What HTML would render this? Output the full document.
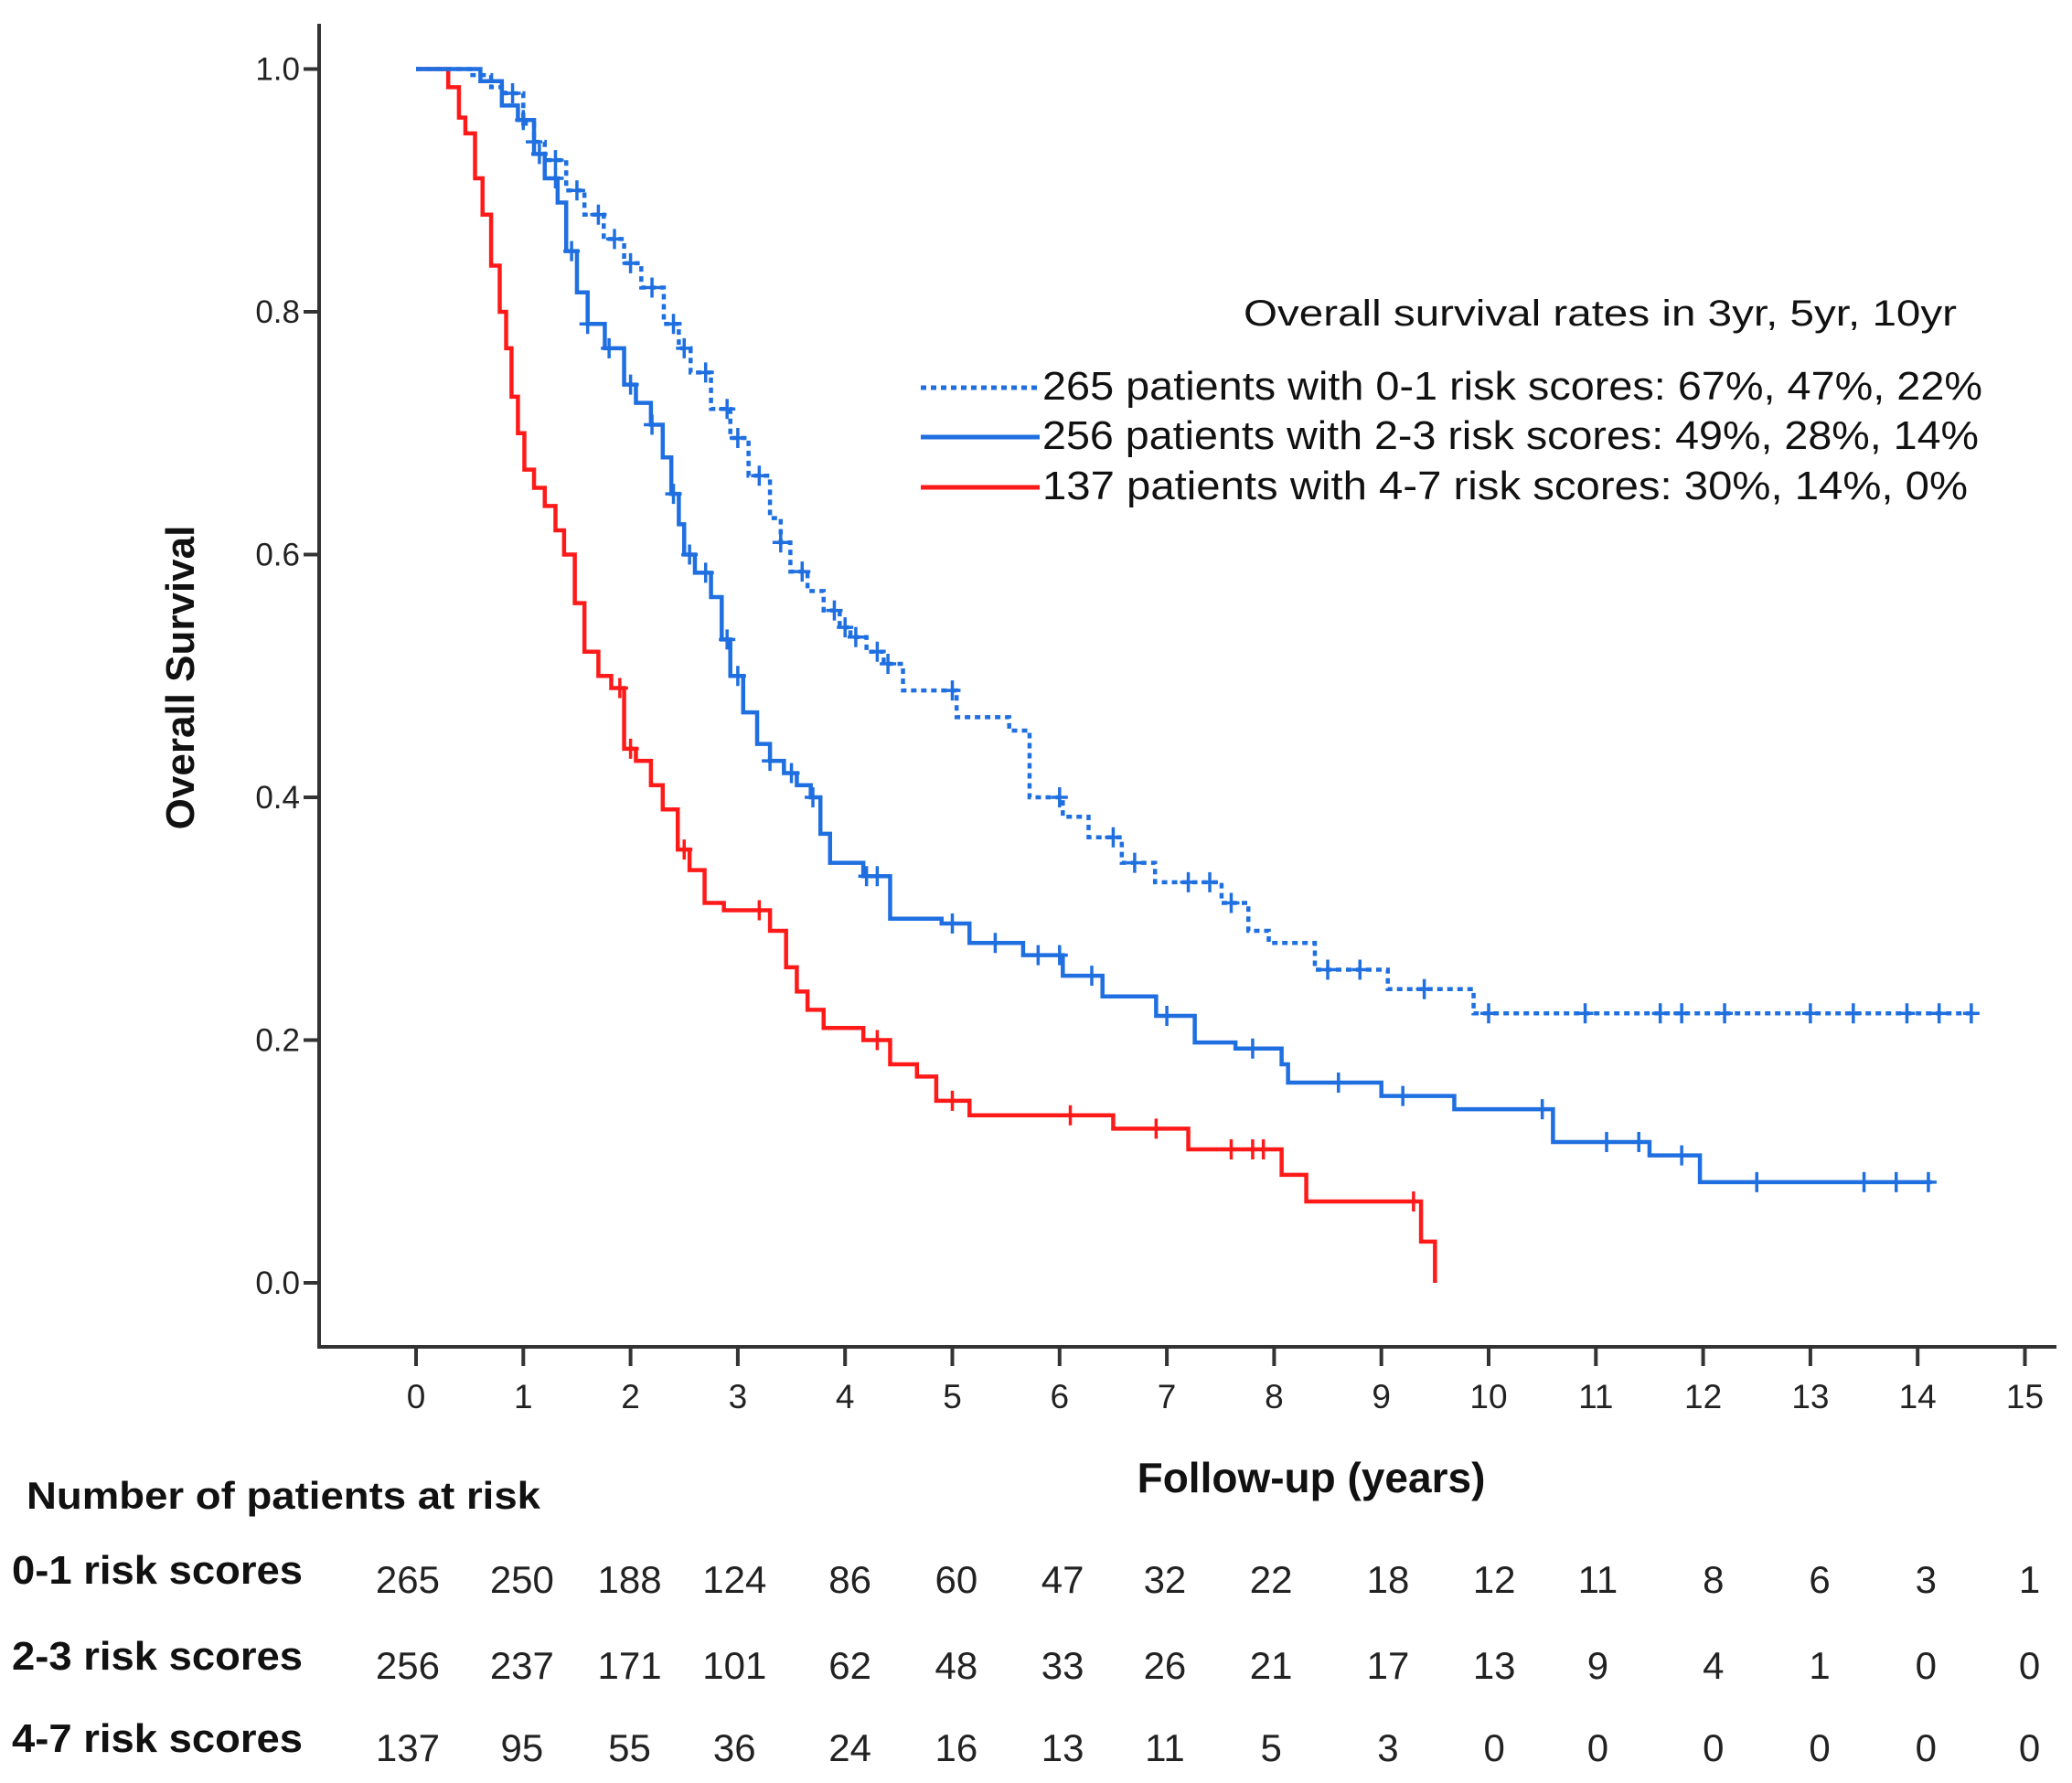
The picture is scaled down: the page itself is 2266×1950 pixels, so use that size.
<!DOCTYPE html>
<html><head><meta charset="utf-8"><style>
html,body{margin:0;padding:0;background:#fff;}
svg{display:block;font-family:"Liberation Sans",Arial,sans-serif;}
</style></head><body>
<svg id="chart" width="2266" height="1950" viewBox="0 0 2266 1950" xmlns="http://www.w3.org/2000/svg">
<g id="axes"></g>
<g id="series"></g>
<g id="legend">
<text x="2140" y="356" text-anchor="end" font-size="40" textLength="780" lengthAdjust="spacingAndGlyphs" fill="#111">Overall survival rates in 3yr,   5yr,   10yr</text>
<line x1="1007" y1="424" x2="1137" y2="424" stroke="#1f6fe0" stroke-width="5" stroke-dasharray="6,5"/>
<text x="1140" y="437" font-size="44" textLength="1028" lengthAdjust="spacingAndGlyphs" fill="#111">265 patients with 0-1 risk scores:  67%, 47%, 22%</text>
<line x1="1007" y1="478" x2="1137" y2="478" stroke="#1f6fe0" stroke-width="5"/>
<text x="1140" y="491" font-size="44" textLength="1024" lengthAdjust="spacingAndGlyphs" fill="#111">256 patients with 2-3 risk scores:  49%, 28%, 14%</text>
<line x1="1007" y1="533" x2="1137" y2="533" stroke="#ff1a1a" stroke-width="5"/>
<text x="1140" y="546" font-size="44" textLength="1012" lengthAdjust="spacingAndGlyphs" fill="#111">137 patients with 4-7 risk scores:  30%, 14%,  0%</text>
</g>
<text transform="translate(212,741) rotate(-90)" text-anchor="middle" font-size="44" font-weight="bold" fill="#111">Overall Survival</text>
<text x="1434" y="1632" text-anchor="middle" font-size="46" font-weight="bold" fill="#111">Follow-up (years)</text>
<g id="risk">
<text x="29" y="1650" font-size="42" font-weight="bold" fill="#111" textLength="562" lengthAdjust="spacingAndGlyphs">Number of patients at risk</text>
</g>
</svg>
<script>
const xTicks = [0,1,2,3,4,5,6,7,8,9,10,11,12,13,14,15];
const yTicks = [0.0,0.2,0.4,0.6,0.8,1.0];
const t01 = [0,0.33,0.5,0.7,0.83,1.0,1.1,1.2,1.4,1.57,1.75,1.94,2.1,2.31,2.45,2.56,2.75,2.93,3.1,3.3,3.4,3.49,3.65,3.8,3.95,4.05,4.2,4.36,4.54,5.04,5.53,5.72,6.03,6.27,6.58,6.89,7.51,7.76,7.95,8.38,9.06,9.86,14.5];
const s01 = [1,1,0.995,0.985,0.98,0.955,0.94,0.925,0.90,0.88,0.86,0.84,0.82,0.79,0.77,0.75,0.72,0.696,0.665,0.63,0.61,0.586,0.57,0.554,0.54,0.532,0.52,0.51,0.488,0.466,0.455,0.40,0.384,0.367,0.346,0.33,0.313,0.29,0.28,0.258,0.242,0.222,0.222];
const c01 = [0.9,1.1,1.3,1.5,1.7,1.85,2.0,2.2,2.4,2.5,2.7,2.9,3.0,3.2,3.4,3.6,3.9,4.0,4.1,4.3,4.4,5.0,6.0,6.5,6.7,7.2,7.4,7.6,8.5,8.8,9.4,10.0,10.9,11.6,11.8,12.2,13.0,13.4,13.9,14.2,14.5];
const t23 = [0,0.45,0.6,0.8,0.95,1.1,1.2,1.32,1.4,1.5,1.6,1.76,1.94,2.05,2.19,2.3,2.38,2.45,2.5,2.6,2.75,2.85,2.93,3.05,3.18,3.3,3.43,3.55,3.68,3.77,3.86,4.17,4.42,4.9,5.16,5.66,6.03,6.4,6.9,7.26,7.64,8.07,8.13,9.0,9.68,10.6,11.5,11.97,14.13];
const s23 = [1,1,0.99,0.97,0.958,0.93,0.91,0.89,0.85,0.816,0.79,0.77,0.74,0.725,0.707,0.68,0.65,0.625,0.60,0.585,0.565,0.53,0.50,0.47,0.444,0.43,0.42,0.41,0.40,0.37,0.346,0.335,0.30,0.296,0.28,0.27,0.253,0.236,0.22,0.198,0.193,0.18,0.165,0.154,0.143,0.116,0.105,0.083,0.083];
const c23 = [1.0,1.15,1.3,1.45,1.6,1.8,2.0,2.2,2.4,2.55,2.7,2.9,3.0,3.3,3.5,3.7,4.2,4.3,5.0,5.4,5.8,6.0,6.3,7.0,7.8,8.6,9.2,10.5,11.1,11.4,11.8,12.5,13.5,13.8,14.1];
const t47 = [0,0.2,0.3,0.4,0.46,0.55,0.62,0.7,0.78,0.84,0.89,0.95,1.01,1.1,1.2,1.3,1.38,1.48,1.57,1.7,1.82,1.94,2.05,2.19,2.3,2.44,2.55,2.69,2.87,3.3,3.45,3.55,3.65,3.8,4.17,4.42,4.67,4.85,5.16,6.5,7.2,8.07,8.3,9.37,9.5];
const s47 = [1,1,0.985,0.96,0.947,0.91,0.88,0.838,0.80,0.77,0.73,0.70,0.67,0.655,0.64,0.62,0.60,0.56,0.52,0.50,0.49,0.44,0.43,0.41,0.39,0.357,0.34,0.313,0.307,0.29,0.26,0.24,0.225,0.21,0.20,0.18,0.17,0.15,0.138,0.127,0.11,0.089,0.067,0.034,0.0];
const c47 = [1.9,2.0,2.5,3.2,4.3,5.0,6.1,6.9,7.6,7.8,7.9,9.3];
const riskRows = ["0-1 risk scores","2-3 risk scores","4-7 risk scores"];
const risk01 = [265,250,188,124,86,60,47,32,22,18,12,11,8,6,3,1];
const risk23 = [256,237,171,101,62,48,33,26,21,17,13,9,4,1,0,0];
const risk47 = [137,95,55,36,24,16,13,11,5,3,0,0,0,0,0,0];

const NS = "http://www.w3.org/2000/svg";
const X0 = 455, XS = 117.3, Y0 = 1403, YS = 1327.5;
function xs(t){return X0 + t*XS;}
function ys(v){return Y0 - v*YS;}
function mk(tag, attrs, parent){const e=document.createElementNS(NS,tag);for(const k in attrs)e.setAttribute(k,attrs[k]);parent.appendChild(e);return e;}
const axes = document.getElementById('axes');
let e = mk('path',{d:`M349 26 V1473 H2249`,fill:'none',stroke:'#333','stroke-width':4},axes);


yTicks.forEach(v=>{
  let l = mk('line',{x1:332,x2:349,y1:ys(v),y2:ys(v),stroke:'#333','stroke-width':4},axes);
  
  
  let t = mk('text',{x:328,y:ys(v)+12,'text-anchor':'end','font-size':35,fill:'#222'},axes);
  t.textContent = v.toFixed(1);
  
  
});
xTicks.forEach(v=>{
  let l = mk('line',{x1:xs(v),x2:xs(v),y1:1473,y2:1494,stroke:'#333','stroke-width':4},axes);
  
  
  let t = mk('text',{x:xs(v),y:1540,'text-anchor':'middle','font-size':37,fill:'#222'},axes);
  t.textContent = v;
  
  
});
function stepAt(ts, ss, t){let v=ss[0];for(let i=0;i<ts.length;i++){if(ts[i]<=t)v=ss[i];}return v;}
const ser = document.getElementById('series');
function drawSeries(ts, ss, cs, color, dash, name){
  let d = `M${xs(ts[0])} ${ys(ss[0])}`;
  for(let i=1;i<ts.length;i++){d += ` H${xs(ts[i])} V${ys(ss[i])}`;}
  const attrs = {d:d,fill:'none',stroke:color,'stroke-width':4.5};
  if(dash) attrs['stroke-dasharray']=dash;
  let p = mk('path',attrs,ser);
  
  
  cs.forEach(c=>{
    const x = xs(c), y = ys(stepAt(ts,ss,c));
    let m = mk('path',{d:`M${x-9} ${y} H${x+9} M${x} ${y-11} V${y+11}`,stroke:color,'stroke-width':3.5},ser);
    
    
  });
}
drawSeries(t47,s47,c47,'#ff1a1a',null,'risk-4-7');
drawSeries(t23,s23,c23,'#1f6fe0',null,'risk-2-3');
drawSeries(t01,s01,c01,'#1f6fe0','6,5','risk-0-1');

const riskG = document.getElementById('risk');
const colX = [307,393,474,553,640,720,800,877,957,1045,1125,1203,1290,1370,1450,1528].map(v=>v*1.4526);
const rowY = [1742,1836,1926];
[risk01,risk23,risk47].forEach((row,ri)=>{
  let lab = mk('text',{x:13,y:rowY[ri]-10,'font-size':44,'font-weight':'bold',fill:'#111',textLength:318,lengthAdjust:'spacingAndGlyphs'},riskG);
  lab.textContent = riskRows[ri];
  
  
  row.forEach((n,ci)=>{
    let t = mk('text',{x:colX[ci],y:rowY[ri],'text-anchor':'middle','font-size':42,fill:'#222'},riskG);
    t.textContent = n;
    
    
  });
});
</script>
</body></html>
